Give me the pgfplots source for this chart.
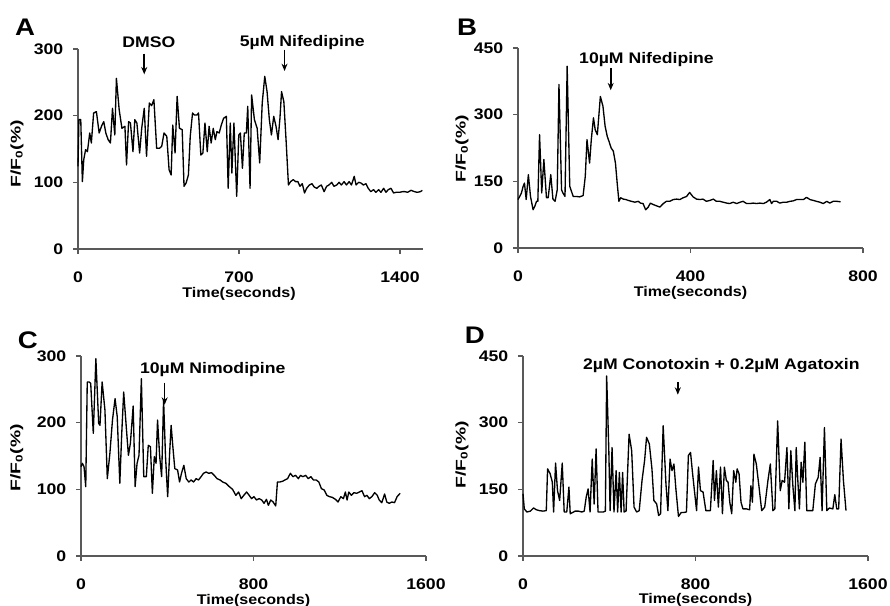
\documentclass[border=0pt]{standalone}
\usepackage{fontspec}
\setmainfont{Liberation Sans}[FakeStretch=1.15]
\usepackage{graphicx}
\usepackage{pgfplots}
\pgfplotsset{compat=1.18}
\usetikzlibrary{arrows.meta}
\tikzset{
  ann/.style={font=\bfseries\fontsize{11.5}{13}\selectfont, anchor=center},
  letter/.style={font=\bfseries\fontsize{18}{20}\selectfont, anchor=center},
  arr/.style={-{Stealth[length=5.5pt,width=4.5pt]}, line width=1.2pt, black},
  trace/.style={black, line width=1pt, line join=round},
}
\pgfplotsset{
  panel/.style={
    scale only axis, width=258.75pt, height=150pt,
    axis lines=left, axis line style={-, draw=black!65, line width=1.1pt},
    xmin=0, ymin=0, clip=false,
    tick style={draw=black!65, line width=0.8pt},
    major tick length=3.5pt, tick align=outside,
    /pgf/number format/assume math mode=true,
    /pgf/number format/1000 sep={},
    tick label style={font=\bfseries\fontsize{11.5}{13}\selectfont},
    xticklabel style={anchor=center, yshift=-18pt},
    yticklabel style={anchor=east, xshift=-4pt},
    label style={font=\bfseries\fontsize{10.5}{12}\selectfont},
    ylabel={\scalebox{1.2}[1]{F/F\textsubscript{0}(\%)}},
    xlabel={Time(seconds)},
  },
}
\begin{document}
\begin{tikzpicture}
\path[use as bounding box] (0,0) rectangle (667.5pt,454.5pt);
% ---------------- A
\begin{axis}[panel, at={(58.5pt,267.75pt)}, anchor=south west,
  xmax=1500, ymax=300, xtick={0,700,1400}, ytick={0,100,200,300},
  xlabel style={at={(axis description cs:0.467,-0.222)}, anchor=center},
  ylabel style={at={(axis description cs:-0.177,0.475)}, anchor=center}]
\addplot[trace, mark=none] coordinates {
(0,124)(4,194)(12,194)(19,101)(25,134)(33,149)(41,146)(51,174)(58,159)(68,204)
(80,206)(92,174)(102,184)(112,191)(121,174)(131,164)(141,159)(150,211)(160,171)(167,256)
(179,209)(191,181)(204,184)(211,126)(220,191)(228,189)(239,146)(247,194)(256,189)(268,144)
(277,181)(288,211)(298,139)(310,219)(320,215)(330,224)(342,151)(354,151)(364,154)(374,174)
(386,169)(396,119)(405,111)(412,186)(422,144)(431,229)(441,181)(453,179)(461,94)(470,99)
(480,111)(488,169)(498,204)(506,201)(517,201)(524,204)(534,141)(543,144)(552,189)(562,146)
(570,184)(579,159)(588,181)(597,164)(604,176)(614,174)(623,186)(633,196)(645,199)(653,91)
(662,189)(669,114)(678,189)(690,79)(699,171)(706,174)(715,121)(723,174)(732,174)(738,214)
(748,91)(755,231)(767,194)(779,181)(790,129)(801,219)(812,259)(822,236)(832,194)(841,171)
(851,199)(861,184)(870,164)(878,196)(885,236)(895,221)(905,161)(915,96)(924,101)(936,104)
(946,101)(956,101)(965,94)(975,98)(985,84)(994,91)(1006,96)(1017,98)(1027,93)(1038,91)
(1048,94)(1058,96)(1070,86)(1081,94)(1091,96)(1103,100)(1113,94)(1125,96)(1135,100)(1145,96)
(1157,101)(1167,96)(1179,101)(1189,96)(1201,109)(1209,96)(1220,100)(1230,99)(1241,96)(1252,98)
(1262,91)(1273,86)(1285,89)(1295,85)(1307,89)(1317,85)(1329,91)(1339,85)(1349,89)(1361,91)
(1372,84)(1383,85)(1397,85)(1412,86)(1422,86)(1433,85)(1448,88)(1463,86)(1474,85)(1489,86)(1497,88)
};
\node[ann] at (axis cs:308,310) {DMSO};
\node[ann] at (axis cs:975,310) {5µM Nifedipine};
\draw[arr] (axis cs:288,293) -- (axis cs:288,262);
\draw[arr] (axis cs:898,299) -- (axis cs:898,267);
\node[letter] at (axis cs:-230,333) {A};
\end{axis}
% ---------------- B
\begin{axis}[panel, at={(388.5pt,268.5pt)}, anchor=south west,
  xmax=800, ymax=450, xtick={0,400,800}, ytick={0,150,300,450},
  xlabel style={at={(axis description cs:0.5,-0.225)}, anchor=center},
  ylabel style={at={(axis description cs:-0.162,0.495)}, anchor=center}]
\addplot[trace, mark=none] coordinates {
(0,109)(4,116)(8,124)(12,139)(15,146)(19,109)(24,165)(29,116)(35,86)(39,94)
(43,105)(46,105)(50,255)(55,124)(60,199)(66,113)(70,113)(76,165)(81,110)(86,105)
(91,131)(95,368)(101,131)(104,124)(109,116)(114,409)(120,139)(128,116)(135,116)(143,115)
(151,118)(156,161)(160,244)(166,191)(170,244)(175,293)(179,266)(184,255)(191,341)(197,319)
(202,274)(207,251)(211,240)(216,225)(221,218)(226,191)(230,146)(234,105)(238,113)(244,110)
(250,109)(256,107)(263,105)(271,103)(279,105)(284,101)(290,100)(296,86)(302,92)(307,101)
(313,98)(321,95)(329,92)(337,100)(344,105)(352,105)(360,109)(368,110)(375,109)(383,113)
(391,116)(398,125)(406,115)(414,110)(422,109)(429,110)(437,105)(445,107)(453,110)(460,105)
(468,105)(476,103)(484,101)(491,100)(499,103)(507,100)(515,103)(522,105)(530,100)(538,100)
(545,101)(553,100)(561,101)(569,100)(576,103)(584,109)(588,100)(592,105)(600,105)(607,101)
(615,103)(623,103)(631,105)(638,106)(646,109)(654,109)(662,109)(669,114)(677,109)(685,107)
(692,105)(700,103)(708,100)(716,105)(723,101)(731,105)(739,105)(748,104)
};
\node[ann] at (axis cs:298,425) {10µM Nifedipine};
\draw[arr] (axis cs:215,405) -- (axis cs:215,355);
\node[letter] at (axis cs:-118,497) {B};
\end{axis}
% ---------------- C
\begin{axis}[panel, at={(60.75pt,37.5pt)}, anchor=south west,
  xmax=1600, ymax=300, xtick={0,800,1600}, ytick={0,100,200,300},
  xlabel style={at={(axis description cs:0.5,-0.222)}, anchor=center},
  ylabel style={at={(axis description cs:-0.186,0.49)}, anchor=center}]
\addplot[trace, mark=none] coordinates {
(0,134)(6,139)(14,134)(22,104)(29,261)(38,261)(45,259)(57,184)(69,296)(82,199)
(88,196)(98,261)(111,219)(122,116)(134,154)(146,204)(158,236)(168,209)(180,109)(189,184)
(198,246)(211,189)(220,151)(229,169)(242,225)(251,104)(260,139)(269,151)(280,266)(291,119)
(303,119)(312,166)(322,164)(331,94)(340,149)(348,139)(355,204)(365,149)(374,119)(383,234)
(392,149)(402,89)(411,154)(418,196)(426,164)(435,131)(448,129)(457,111)(466,124)(477,136)
(488,116)(500,111)(511,114)(522,111)(534,116)(545,114)(557,119)(568,124)(580,126)(592,124)
(605,125)(618,121)(631,116)(645,114)(657,111)(672,109)(688,104)(703,100)(718,91)(731,96)
(743,86)(755,91)(768,96)(780,91)(791,86)(802,89)(814,84)(826,86)(838,84)(849,79)
(860,85)(869,76)(880,84)(891,81)(903,75)(911,111)(922,111)(934,112)(946,114)(958,116)
(971,124)(983,119)(995,121)(1008,116)(1018,121)(1029,119)(1042,121)(1054,116)(1066,119)(1078,114)
(1091,114)(1103,111)(1115,101)(1128,99)(1140,91)(1152,89)(1165,88)(1180,85)(1192,81)(1205,89)
(1217,86)(1226,96)(1234,84)(1242,96)(1254,91)(1266,95)(1278,94)(1291,96)(1303,98)(1315,89)
(1326,91)(1337,86)(1349,89)(1362,95)(1374,91)(1383,84)(1395,80)(1408,93)(1418,81)(1429,79)
(1442,81)(1454,80)(1466,89)(1480,94)
};
\node[ann] at (axis cs:611,279) {10µM Nimodipine};
\draw[arr] (axis cs:388,260) -- (axis cs:388,227);
\node[letter] at (axis cs:-246,324) {C};
\end{axis}
% ---------------- D
\begin{axis}[panel, at={(392.25pt,37.5pt)}, anchor=south west,
  xmax=1600, ymax=450, xtick={0,800,1600}, ytick={0,150,300,450},
  xlabel style={at={(axis description cs:0.5,-0.218)}, anchor=center},
  ylabel style={at={(axis description cs:-0.177,0.505)}, anchor=center}]
\addplot[trace, mark=none] coordinates {
(0,140)(6,106)(18,99)(34,101)(49,108)(62,104)(77,102)(92,101)(108,102)(114,196)
(126,185)(136,166)(142,99)(151,209)(160,147)(170,125)(182,209)(191,99)(203,99)(213,155)
(219,95)(227,97)(242,101)(257,101)(273,99)(284,101)(293,132)(302,151)(311,99)(321,218)
(330,117)(339,241)(348,99)(361,99)(373,99)(382,101)(388,405)(398,237)(404,102)(413,244)
(422,99)(432,192)(439,99)(447,188)(455,99)(462,188)(469,99)(478,101)(492,274)(504,237)
(515,110)(527,99)(539,102)(552,170)(564,215)(573,267)(586,252)(598,196)(607,125)(620,117)
(629,91)(638,95)(650,293)(663,162)(672,102)(682,218)(691,192)(700,207)(709,151)(721,89)
(734,98)(746,98)(758,99)(767,226)(777,233)(786,188)(795,147)(805,102)(814,200)(823,147)
(835,144)(848,102)(859,102)(869,102)(882,215)(888,125)(897,192)(906,110)(916,200)(925,95)
(934,200)(943,170)(951,166)(959,121)(968,95)(977,192)(987,166)(993,196)(1002,185)(1011,121)
(1020,106)(1036,106)(1051,104)(1057,158)(1064,121)(1071,229)(1082,207)(1094,158)(1107,102)(1121,110)
(1136,170)(1147,207)(1159,102)(1168,106)(1181,304)(1193,147)(1202,170)(1213,166)(1224,244)(1233,106)
(1242,237)(1252,155)(1261,102)(1267,244)(1275,166)(1282,106)(1290,211)(1298,166)(1307,256)(1316,102)
(1329,102)(1344,102)(1356,162)(1369,177)(1378,222)(1387,102)(1398,289)(1409,102)(1421,108)(1437,106)
(1446,138)(1455,106)(1464,106)(1475,263)(1486,170)(1498,102)
};
\node[ann] at (axis cs:920,428) {2µM Conotoxin + 0.2µM Agatoxin};
\draw[arr] (axis cs:718,392) -- (axis cs:718,363);
\node[letter] at (axis cs:-223,497) {D};
\end{axis}
\end{tikzpicture}
\end{document}
